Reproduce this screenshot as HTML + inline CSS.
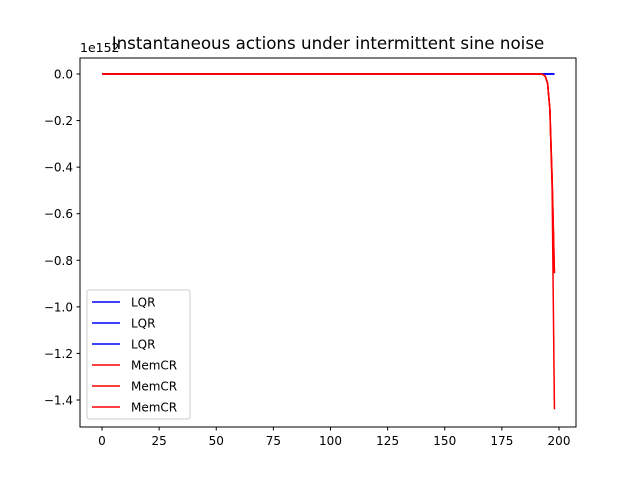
<!DOCTYPE html>
<html><head><meta charset="utf-8"><style>
body{margin:0;background:#fff}
svg{font-family:"DejaVu Sans","Liberation Sans",sans-serif}
</style></head><body>
<svg id="chart" width="640" height="480" xmlns="http://www.w3.org/2000/svg">
<rect width="640" height="480" fill="#fff"/>
<text x="328" y="49" font-size="16.7" text-anchor="middle">Instantaneous actions under intermittent sine noise</text>
<text x="80" y="52" font-size="12.5">1e152</text>
<g id="plot"></g>
<rect x="80" y="58" width="496" height="369" fill="none" stroke="#000" stroke-width="1"/>
<g id="xt"></g>
<g id="yt"></g>
<g id="legend"></g>
</svg>
<script>
const xTicks=[0,25,50,75,100,125,150,175,200];
const yTicks=[0.0,-0.2,-0.4,-0.6,-0.8,-1.0,-1.2,-1.4];
const seriesNames=["LQR","LQR","LQR","MemCR","MemCR","MemCR"];
const seriesColors=["#0000ff","#0000ff","#0000ff","#ff0000","#ff0000","#ff0000"];
const nSteps=199;
const tailLQR1={};
const tailLQR2={};
const tailLQR3={};
const tailMem1={193:-0.002,194:-0.01,195:-0.04,196:-0.15,197:-0.45,198:-0.855};
const tailMem2={193:-0.002,194:-0.01,195:-0.04,196:-0.15,197:-0.5,198:-1.44};
const tailMem3={193:-0.002,194:-0.01,195:-0.04,196:-0.15,197:-0.45,198:-0.855};
const tails=[tailLQR1,tailLQR2,tailLQR3,tailMem1,tailMem2,tailMem3];
const X=v=>102+v*(559-102)/200;
const Y=v=>74-v*(400-74)/1.4;
const NS="http://www.w3.org/2000/svg";
function mk(t,a,p){const e=document.createElementNS(NS,t);for(const k in a)e.setAttribute(k,a[k]);p.appendChild(e);return e;}
const xt=document.getElementById('xt'),yt=document.getElementById('yt'),plot=document.getElementById('plot'),lg=document.getElementById('legend');
xTicks.forEach(v=>{
 const l=mk('line',{x1:X(v),x2:X(v),y1:427,y2:430.5,stroke:'#000'},xt);
 
 
 const t=mk('text',{x:X(v),y:445,'font-size':12,'text-anchor':'middle'},xt);t.textContent=v;
 
 
});
yTicks.forEach(v=>{
 const l=mk('line',{x1:76.5,x2:80,y1:Y(v),y2:Y(v),stroke:'#000'},yt);
 
 
 const t=mk('text',{x:73,y:Y(v)+4.5,'font-size':12,'text-anchor':'end'},yt);t.textContent=(v===0?'0.0':'\u2212'+Math.abs(v).toFixed(1));
 
 
});
tails.forEach((tail,i)=>{
 let pts=[];
 for(let k=0;k<nSteps;k++){const v=tail[k]!==undefined?tail[k]:0;pts.push(X(k).toFixed(2)+','+Y(v).toFixed(2));}
 const p=mk('polyline',{points:pts.join(' '),fill:'none',stroke:seriesColors[i],'stroke-width':1.5},plot);
 
 
});
const box=mk('rect',{x:87,y:290,width:103,height:129,fill:'#fff','fill-opacity':0.8,stroke:'#ccc',rx:2},lg);


seriesNames.forEach((n,i)=>{
 const y=302+i*21;
 const l=mk('line',{x1:92,x2:120,y1:y,y2:y,stroke:seriesColors[i],'stroke-width':1.5},lg);
 
 
 const t=mk('text',{x:131,y:y+4.5,'font-size':12},lg);t.textContent=n;
 
 
});
</script>
</body></html>
